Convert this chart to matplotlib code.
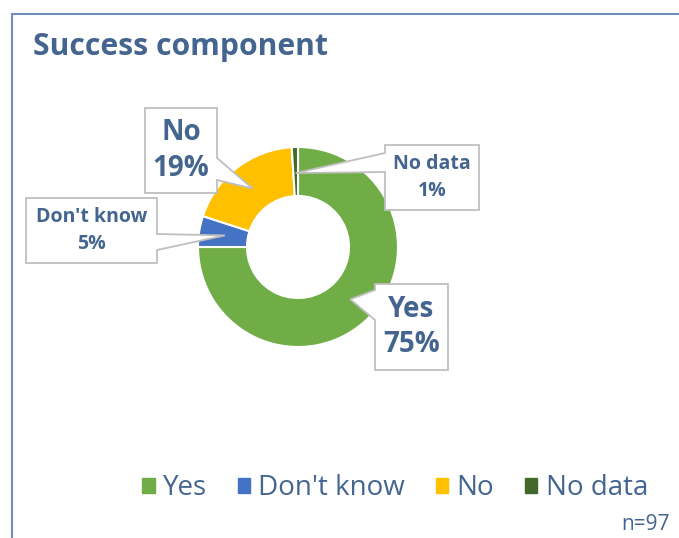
import numpy as np
import matplotlib.pyplot as plt
from matplotlib.patches import Rectangle, Polygon

# data
labels = ["Yes", "Don't know", "No", "No data"]
values = [75, 5, 19, 1]
colors = ["#70AD47", "#4472C4", "#FFC000", "#43682B"]

# label boxes in pie units (radius = 1): left, right, bottom, top
box_ext = [(0.77, 1.50, -1.23, -0.37), (-2.72, -1.41, -0.16, 0.49),
           (-1.53, -0.81, 0.54, 1.39), (0.87, 1.81, 0.37, 1.02)]
# side of the box the callout leaves from, and its base (upper y, lower y)
callout_side = ["left", "right", "right", "left"]
callout_base = [(-0.43, -0.73), (0.13, -0.03), (0.89, 0.67), (0.94, 0.75)]
label_size = [20, 14, 20, 14]
label_spacing = [1.3, 1.5, 1.3, 1.5]

text_col = "#44658F"
edge_col = "#BFBFBF"
plt.rcParams['font.family'] = ['Open Sans', 'DejaVu Sans']

W, H = 679, 538
fig = plt.figure(figsize=(W / 100, H / 100), dpi=100)

# chart border
fig.patches.append(Rectangle((12 / W, -0.1), 1.2, 1 - 14 / H + 0.1, transform=fig.transFigure,
                             fill=False, ec="#6F8FBA", lw=1.5))

fig.text(33 / W, 1 - 47 / H, "Success component", fontsize=21.7, fontweight="bold",
         color=text_col, va="center", ha="left")

cx, cy, r = 298, 247, 100
ax = fig.add_axes([(cx - r) / W, (H - cy - r) / H, 2 * r / W, 2 * r / H])
wedges, _ = ax.pie(values, colors=colors, startangle=90, counterclock=False,
                   radius=1, wedgeprops=dict(width=0.49, edgecolor="white", linewidth=1.5))
ax.set_xlim(-1, 1)
ax.set_ylim(-1, 1)
ax.set_aspect("equal")
ax.axis("off")

for w, lab, val, ext, side, base, fs, ls in zip(wedges, labels, values, box_ext, callout_side,
                                                callout_base, label_size, label_spacing):
    ang = np.deg2rad((w.theta1 + w.theta2) / 2)
    tip = (0.74 * np.cos(ang), 0.74 * np.sin(ang))
    l, rt, b, t = ext
    # box outline with the callout pointer built in
    if side == "right":
        pts = [(l, t), (rt, t), (rt, base[0]), tip, (rt, base[1]), (rt, b), (l, b)]
    else:
        pts = [(l, t), (rt, t), (rt, b), (l, b), (l, base[1]), tip, (l, base[0])]
    ax.add_patch(Polygon(pts, closed=True, fc="white", ec=edge_col, lw=1.3,
                         clip_on=False, zorder=4, joinstyle="miter"))
    ax.text((l + rt) / 2, (b + t) / 2, f"{lab}\n{val}%", ha="center", va="center",
            fontsize=fs, fontweight="bold", color=text_col, linespacing=ls, zorder=5)

handles = [plt.Rectangle((0, 0), 1, 1, color=c) for c in colors]
leg = fig.legend(handles, labels, loc="center", bbox_to_anchor=(395 / W, 1 - 488 / H),
                 ncol=4, frameon=False, fontsize=20, handlelength=0.45, handleheight=0.45,
                 handletextpad=0.3, columnspacing=1.1)
for t in leg.get_texts():
    t.set_color(text_col)

fig.text(670 / W, 1 - 524 / H, "n=97", fontsize=15, color=text_col, ha="right", va="center")

fig.savefig("out.png", dpi=100)
